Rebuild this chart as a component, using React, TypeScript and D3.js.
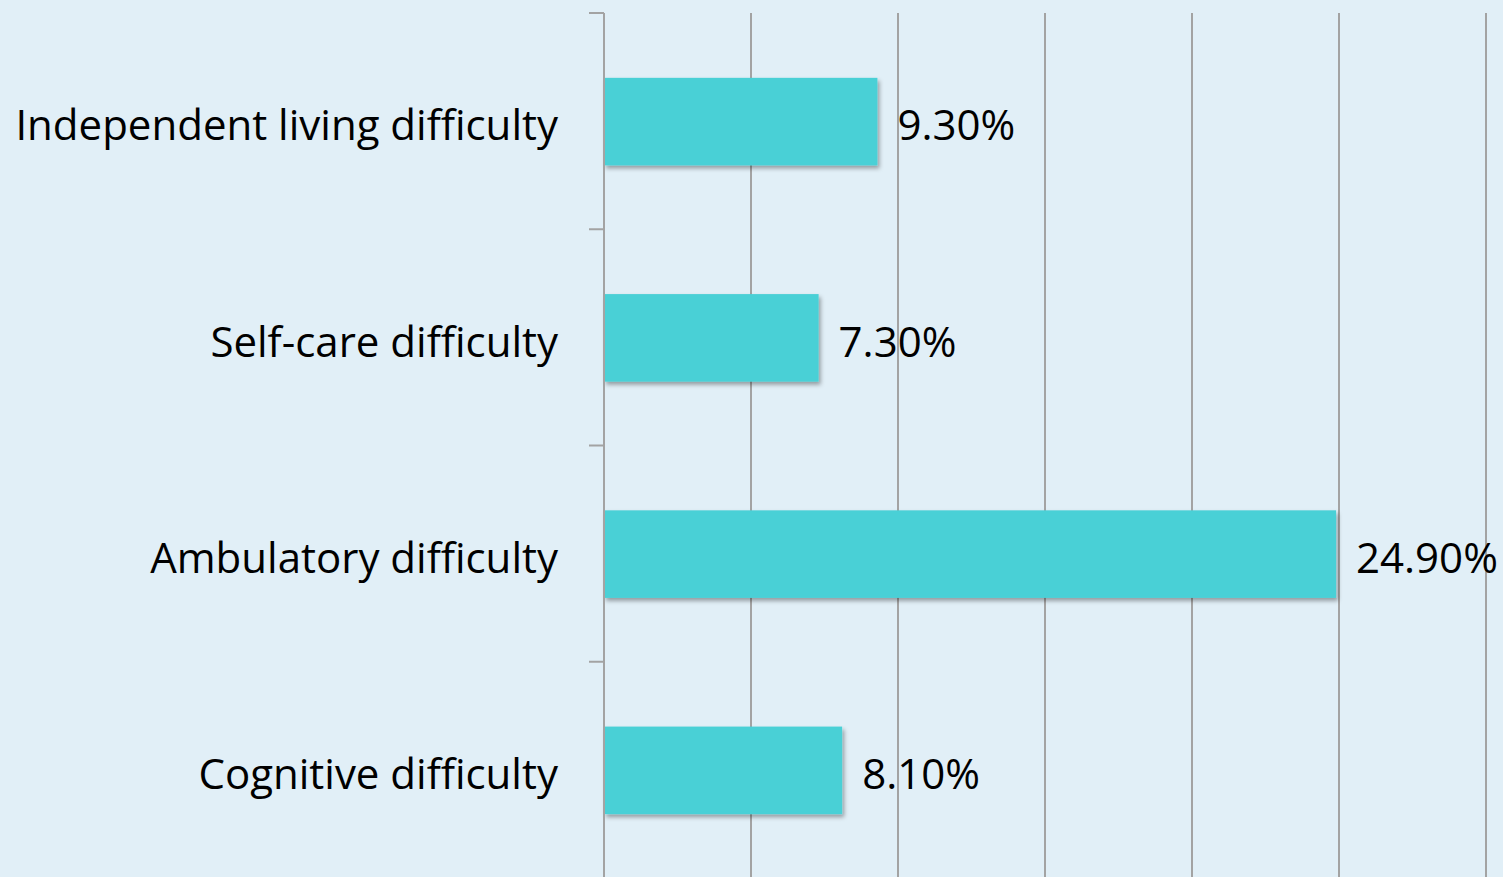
import React from "react";
import * as d3 from "d3";

const categories = [
  "Independent living difficulty",
  "Self-care difficulty",
  "Ambulatory difficulty",
  "Cognitive difficulty",
];
const values = [9.3, 7.3, 24.9, 8.1];
const valueLabels = ["9.30%", "7.30%", "24.90%", "8.10%"];
const xTicks = [0, 5, 10, 15, 20, 25, 30];

const W = 1503;
const H = 877;
const M = { left: 604, top: 13, right: 17 };
const plotBottom = 878;

export default function App() {
  const x = d3.scaleLinear().domain([0, 30]).range([M.left, W - M.right]);
  const y = d3
    .scaleBand<string>()
    .domain(categories)
    .range([M.top, plotBottom])
    .padding(0);
  const bw = y.bandwidth();
  const barH = bw * 0.405;
  const font = "'Open Sans', 'Liberation Sans', sans-serif";
  const grid = "#a3a3a3";

  return (
    <svg
      width={W}
      height={H}
      style={{ position: "fixed", left: 0, top: 0, display: "block" }}
    >
      <defs>
        <filter id="sh" x="-5%" y="-20%" width="115%" height="150%">
          <feDropShadow dx="2" dy="3" stdDeviation="2" floodColor="#000" floodOpacity="0.35" />
        </filter>
      </defs>
      <rect x={0} y={0} width={W} height={H} fill="#e1eff7" />
      {xTicks.slice(1).map((t) => (
        <line key={t} x1={x(t)} x2={x(t)} y1={M.top} y2={plotBottom} stroke={grid} strokeWidth={2} />
      ))}
      {categories.map((c, i) => (
        <rect
          key={c}
          x={x(0)}
          y={(y(c) as number) + bw / 2 - barH / 2 + 0.5}
          width={x(values[i]) - x(0)}
          height={barH}
          fill="#4ad0d6"
          filter="url(#sh)"
        />
      ))}
      <line x1={x(0)} x2={x(0)} y1={M.top} y2={plotBottom} stroke={grid} strokeWidth={2} />
      {[...categories.map((c) => y(c) as number), plotBottom].map((yy, i) => (
        <line key={i} x1={x(0) - 15} x2={x(0)} y1={yy} y2={yy} stroke={grid} strokeWidth={2} />
      ))}
      {categories.map((c) => (
        <text
          key={c}
          x={558}
          y={(y(c) as number) + bw / 2}
          dy="0.46em"
          textAnchor="end"
          fontFamily={font}
          fontSize={42}
          fill="#000"
        >
          {c}
        </text>
      ))}
      {categories.map((c, i) => (
        <text
          key={c}
          x={x(values[i]) + 20}
          y={(y(c) as number) + bw / 2}
          dy="0.46em"
          textAnchor="start"
          fontFamily={font}
          fontSize={42}
          fill="#000"
        >
          {valueLabels[i]}
        </text>
      ))}
    </svg>
  );
}
